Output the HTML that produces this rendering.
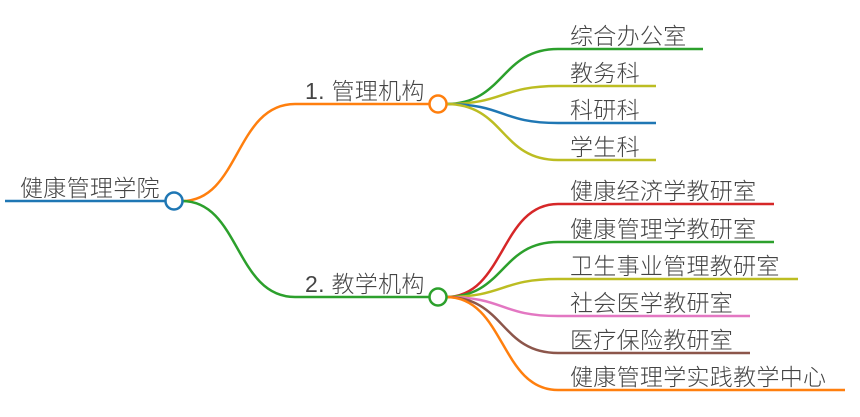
<!DOCTYPE html>
<html><head><meta charset="utf-8"><style>
html,body{margin:0;padding:0;background:#fff;}
svg text{font-family:"Liberation Sans","Noto Sans CJK SC",sans-serif;font-size:23px;font-weight:300;fill:#444;letter-spacing:0.3px;}
</style></head><body>
<svg width="860" height="412" viewBox="0 0 860 412" xmlns="http://www.w3.org/2000/svg">
<g fill="none" stroke-width="2.5">
<path d="M5 201 H165" stroke="#1f77b4"/>
<path d="M182 201 C240 201 235 104 295 104 H429" stroke="#ff7f0e"/>
<path d="M182 201 C240 201 235 297 295 297 H429" stroke="#2ca02c"/>
<path d="M446 104 C505 104 500 49 558 49 H703" stroke="#2ca02c"/>
<path d="M446 104 C505 104 500 86 558 86 H656" stroke="#bcbd22"/>
<path d="M446 104 C505 104 500 123 558 123 H656" stroke="#1f77b4"/>
<path d="M446 104 C505 104 500 160 558 160 H656" stroke="#bcbd22"/>
<path d="M446 297 C505 297 500 204 558 204 H774" stroke="#d62728"/>
<path d="M446 297 C505 297 500 242 558 242 H774" stroke="#2ca02c"/>
<path d="M446 297 C505 297 500 279 558 279 H798" stroke="#bcbd22"/>
<path d="M446 297 C505 297 500 316 558 316 H750" stroke="#e377c2"/>
<path d="M446 297 C505 297 500 353 558 353 H750" stroke="#8c564b"/>
<path d="M446 297 C505 297 500 390 558 390 H845" stroke="#ff7f0e"/>
<circle cx="174" cy="201" r="8.5" stroke="#1f77b4" fill="#fff"/>
<circle cx="438" cy="104" r="8.5" stroke="#ff7f0e" fill="#fff"/>
<circle cx="438" cy="297" r="8.5" stroke="#2ca02c" fill="#fff"/>
</g>
<text x="20" y="196">健康管理学院</text>
<text x="305" y="99">1. 管理机构</text>
<text x="305" y="292">2. 教学机构</text>
<text x="570" y="44">综合办公室</text>
<text x="570" y="81">教务科</text>
<text x="570" y="118">科研科</text>
<text x="570" y="155">学生科</text>
<text x="570" y="199">健康经济学教研室</text>
<text x="570" y="237">健康管理学教研室</text>
<text x="570" y="274">卫生事业管理教研室</text>
<text x="570" y="311">社会医学教研室</text>
<text x="570" y="348">医疗保险教研室</text>
<text x="570" y="385">健康管理学实践教学中心</text>
</svg>
</body></html>
